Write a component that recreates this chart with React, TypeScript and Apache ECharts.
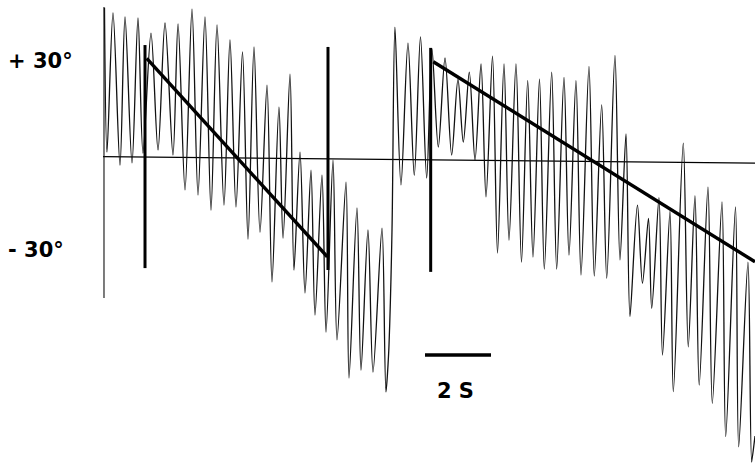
import React, { useEffect, useRef } from "react";
import * as echarts from "echarts";

// Recorded oscillation, first sweep (time in s, angle in degrees)
const sweepOneTime = [
  0.045, 0.121, 0.303, 0.515, 0.667, 0.879, 1.061, 1.212, 1.455, 1.667,
  1.879, 2.121, 2.273, 2.485, 2.697, 2.879, 3.091, 3.273, 3.455, 3.667,
  3.848, 4.03, 4.227, 4.394, 4.576, 4.758, 4.97, 5.121, 5.333, 5.455,
  5.667, 5.788, 5.97, 6.121, 6.303, 6.424, 6.636, 6.758, 6.97, 7.091,
  7.364, 7.455, 7.697, 7.818, 8.03, 8.182, 8.455, 8.576,
];
const sweepOneAngle = [
  46.9, 1.1, 45.3, -3.0, 44.0, -2.3, 43.7, 0.8, 38.9, 1.8,
  42.1, 0.2, 41.8, -10.9, 46.5, -12.5, 44.0, -17.3, 41.5, -15.7,
  36.7, -16.3, 32.9, -26.5, 34.5, -24.3, 22.4, -40.1, 15.4, -26.2,
  25.9, -36.3, 1.1, -43.6, -4.6, -50.6, -6.2, -56.0, -1.4, -58.5,
  -8.4, -70.6, -16.6, -68.1, -23.6, -68.7, -23.0, -75.0,
];

// Second sweep
const sweepTwoTime = [
  8.667, 8.758, 8.848, 9.03, 9.242, 9.433, 9.621, 9.809, 9.97, 10.161,
  10.364, 10.567, 10.758, 10.918, 11.1, 11.273, 11.455, 11.606, 11.803, 11.955,
  12.152, 12.303, 12.515, 12.682, 12.87, 13.03, 13.227, 13.373, 13.597, 13.748,
  13.97, 14.121, 14.333, 14.485, 14.727, 14.888, 15.112, 15.264, 15.515, 15.667,
  15.848, 15.97, 16.197, 16.348, 16.53, 16.627, 16.848, 16.955, 17.182, 17.282,
  17.585, 17.736, 17.939, 18.067, 18.333, 18.464, 18.758, 18.87, 19.167, 19.264,
  19.545, 19.658, 19.758,
];
const sweepTwoAngle = [
  -60.1, -23.6, 40.8, -9.3, 35.7, -6.2, 37.7, -7.1, 33.8, 2.7,
  31.0, 0.2, 24.3, 4.3, 26.5, -1.4, 29.1, -13.1, 31.6, -30.9,
  29.1, -26.8, 29.1, -33.8, 23.8, -32.2, 24.3, -36.0, 26.5, -36.0,
  24.8, -31.6, 23.8, -37.9, 28.3, -38.2, 16.1, -38.9, 31.8, -33.1,
  6.9, -51.1, -15.7, -40.5, -19.9, -48.5, -13.3, -63.3, -17.6, -74.9,
  4.0, -60.7, -12.7, -72.8, -10.0, -78.6, -14.7, -89.2, -16.3, -92.4,
  -33.8, -97.3, -89.0,
];

// Stimulus markers (vertical bars)
const markerTimes = [1.273, 6.818, 9.93];
const markerTop = [35.1, 34.5, 34.2];
const markerBottom = [-35.7, -36.3, -36.9];

// Ramp lines
const rampStartTime = [1.324, 10.009];
const rampStartAngle = [30.9, 29.8];
const rampEndTime = [6.797, 19.758];
const rampEndAngle = [-32.1, -33.7];

// Zero line and start line
const baselineTime = [0, 19.758];
const baselineAngle = [-0.3, -2.35];
const startLineTime = [0.03, 0.03];
const startLineAngle = [47.2, -45.2];

// Scale bar
const scaleBarStart = 9.758;
const scaleBarLength = 2;
const scaleBarAngle = -63.3;
const scaleLabelTime = 10.68;
const scaleLabelAngle = -74.8;
const scaleLabel = "2 S";

// Y tick labels
const yTickValues = [30, -30];
const yTickLabels = ["+ 30°", "- 30°"];

const X_MIN = 0;
const X_MAX = 19.758;
const Y_MIN = -98.2;
const Y_MAX = 49.4;

const zip = (a: number[], b: number[]) => a.map((v, i) => [v, b[i]]);

export default function App() {
  const ref = useRef<HTMLDivElement>(null);

  useEffect(() => {
    if (!ref.current) return;
    const chart = echarts.init(ref.current, undefined, { renderer: "svg" });

    const trace = zip(sweepOneTime, sweepOneAngle).concat(
      zip(sweepTwoTime, sweepTwoAngle)
    );

    const series: any[] = [
      {
        type: "line",
        data: zip(baselineTime, baselineAngle),
        symbol: "none",
        clip: false,
        lineStyle: { color: "#000", width: 1.3 },
        silent: true,
      },
      {
        type: "line",
        data: zip(startLineTime, startLineAngle),
        symbol: "none",
        clip: false,
        lineStyle: { color: "#111", width: 1.1 },
        silent: true,
      },
      {
        type: "line",
        data: trace,
        symbol: "none",
        smooth: 0.3,
        clip: false,
        lineStyle: { color: "#111", width: 1.3 },
        silent: true,
      },
    ];

    markerTimes.forEach((t, i) => {
      series.push({
        type: "line",
        data: [
          [t, markerTop[i]],
          [t, markerBottom[i]],
        ],
        symbol: "none",
        clip: false,
        lineStyle: { color: "#000", width: 3 },
        silent: true,
      });
    });

    rampStartTime.forEach((t, i) => {
      series.push({
        type: "line",
        data: [
          [t, rampStartAngle[i]],
          [rampEndTime[i], rampEndAngle[i]],
        ],
        symbol: "none",
        clip: false,
        lineStyle: { color: "#000", width: 3.4 },
        silent: true,
      });
    });

    series.push({
      type: "line",
      data: [
        [scaleBarStart, scaleBarAngle],
        [scaleBarStart + scaleBarLength, scaleBarAngle],
      ],
      symbol: "none",
      clip: false,
      lineStyle: { color: "#000", width: 3.5 },
      silent: true,
    });

    series.push({
      type: "scatter",
      data: [[scaleLabelTime, scaleLabelAngle]],
      symbolSize: 0,
      clip: false,
      silent: true,
      label: {
        show: true,
        position: "inside",
        formatter: scaleLabel,
        color: "#000",
        opacity: 1,
        textBorderWidth: 0,
        fontFamily: "DejaVu Sans",
        fontWeight: "bold",
        fontSize: 21,
      },
    });

    chart.setOption({
      animation: false,
      backgroundColor: "#fff",
      grid: {
        left: 103,
        right: 0,
        top: 0,
        bottom: 0,
        containLabel: false,
        outerBoundsMode: "none",
      },
      xAxis: {
        type: "value",
        min: X_MIN,
        max: X_MAX,
        show: false,
      },
      yAxis: {
        type: "value",
        min: Y_MIN,
        max: Y_MAX,
        axisLine: { show: false },
        axisTick: { show: false },
        splitLine: { show: false },
        axisLabel: {
          customValues: yTickValues,
          formatter: (v: number) => {
            const i = yTickValues.indexOf(v);
            return i >= 0 ? yTickLabels[i] : "";
          },
          align: "left",
          margin: 95,
          color: "#000",
          fontFamily: "DejaVu Sans",
          fontWeight: "bold",
          fontSize: 21,
        },
      },
      series,
    });

    return () => chart.dispose();
  }, []);

  return (
    <div
      ref={ref}
      style={{ position: "absolute", left: 0, top: 0, width: 755, height: 465 }}
    />
  );
}
